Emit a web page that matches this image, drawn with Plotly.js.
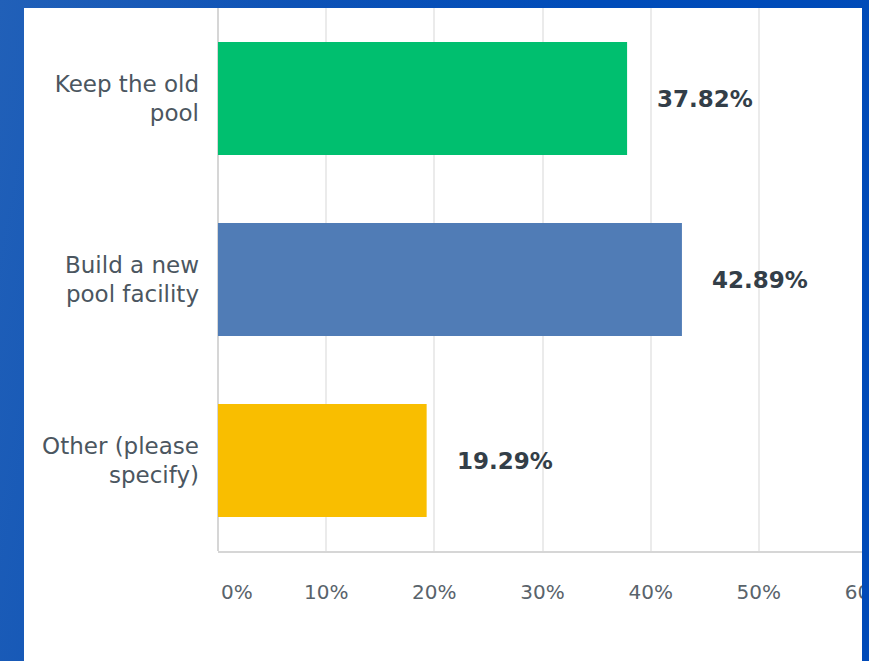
<!DOCTYPE html>
<html>
<head>
<meta charset="utf-8">
<script src="https://cdn.plot.ly/plotly-3.0.1.min.js"></script>
<style>
  html, body { margin: 0; padding: 0; width: 869px; height: 661px; overflow: hidden; }
  body { background: linear-gradient(100deg, #2160b8 0%, #0d52b6 30%, #004cb9 60%, #004ab8 100%); }
  #panel { position: absolute; left: 24px; top: 8px; width: 838px; height: 653px; overflow: hidden; background: #ffffff; }
  #chart { position: absolute; left: 0; top: 0; }
</style>
</head>
<body>
<div id="panel"><div id="chart"></div></div>
<script>
const categories = ["Keep the old<br>pool", "Build a new<br>pool facility", "Other (please<br>specify)"];
const values = [37.82, 42.89, 19.29];
const valueLabels = ["37.82%", "42.89%", "19.29%"];
const barColors = ["#00bf6f", "#507cb6", "#f9be00"];
const tickValues = [0, 10, 20, 30, 40, 50, 60];
const tickLabels = ["", "10%", "20%", "30%", "40%", "50%", "60%"];
const firstTickLabel = "0%";

const fontFamily = "DejaVu Sans, Verdana, sans-serif";

const trace = {
  type: "bar",
  orientation: "h",
  x: values,
  y: categories,
  marker: { color: barColors, line: { width: 0 } },
  hoverinfo: "none",
  width: 0.624
};

const annotations = values.map((v, i) => ({
  x: v, y: categories[i], xref: "x", yref: "y",
  text: valueLabels[i], showarrow: false, xanchor: "left", yanchor: "middle",
  xshift: 28,
  font: { family: fontFamily, size: 23, color: "#333e48", weight: "bold" }
}));
annotations.push({
  x: 0, xref: "x", y: 0, yref: "paper", yanchor: "top", xanchor: "left",
  yshift: -27, xshift: 1, showarrow: false, text: firstTickLabel,
  font: { family: fontFamily, size: 20, color: "#59636b" }
});

const layout = {
  width: 880,
  height: 653,
  margin: { l: 194, r: 37, t: 0, b: 110 },
  paper_bgcolor: "#ffffff",
  plot_bgcolor: "#ffffff",
  showlegend: false,
  xaxis: {
    range: [0, 60],
    tickvals: tickValues,
    ticktext: tickLabels,
    showgrid: true,
    gridcolor: "#ebebeb",
    gridwidth: 2,
    zeroline: true,
    zerolinecolor: "#d6d6d6",
    zerolinewidth: 2,
    showline: true,
    linecolor: "#d6d6d6",
    linewidth: 2,
    ticks: "",
    ticklabelstandoff: 22,
    tickfont: { family: fontFamily, size: 20, color: "#59636b" },
    fixedrange: true
  },
  yaxis: {
    autorange: "reversed",
    ticks: "",
    showgrid: false,
    showline: false,
    ticklabelstandoff: 18,
    tickfont: { family: fontFamily, size: 23, color: "#4b5660" },
    fixedrange: true
  },
  annotations: annotations
};

Plotly.newPlot("chart", [trace], layout, { displayModeBar: false, staticPlot: true });
</script>
</body>
</html>
